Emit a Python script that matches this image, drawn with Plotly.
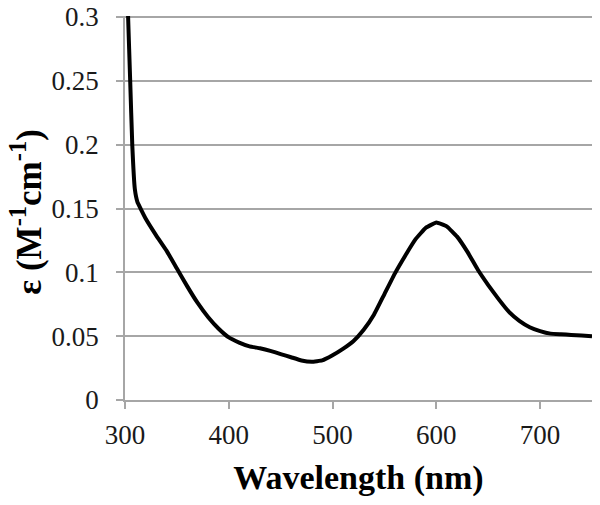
import plotly.graph_objects as go

wavelength = [302, 303, 305, 307, 309.5, 312, 315, 320, 330, 340, 350, 360, 370, 380, 390,
              400, 410, 420, 430, 440, 450, 460, 470, 480, 490, 500, 510, 520, 530, 540,
              550, 560, 570, 580, 590, 600, 610, 620, 630, 640, 650, 660, 670, 680, 690,
              700, 710, 720, 730, 740, 750]
epsilon = [0.33, 0.30, 0.25, 0.20, 0.165, 0.155, 0.150, 0.142, 0.129, 0.117, 0.103, 0.089, 0.076, 0.065, 0.056,
           0.049, 0.045, 0.042, 0.0405, 0.0385, 0.036, 0.0335, 0.031, 0.030, 0.031, 0.035, 0.040, 0.046, 0.055, 0.067,
           0.083, 0.099, 0.113, 0.126, 0.135, 0.139, 0.136, 0.128, 0.116, 0.102, 0.090, 0.079, 0.069, 0.062, 0.057,
           0.054, 0.052, 0.0515, 0.051, 0.0505, 0.050]

x_ticks = [300, 400, 500, 600, 700]
y_ticks = [0, 0.05, 0.1, 0.15, 0.2, 0.25, 0.3]
y_ticktext = ["0", "0.05", "0.1", "0.15", "0.2", "0.25", "0.3"]

fig = go.Figure()
fig.add_trace(go.Scatter(x=wavelength, y=epsilon, mode="lines",
                         line=dict(color="black", width=4, shape="spline", smoothing=0.3),
                         showlegend=False, hoverinfo="skip"))

serif = "Liberation Serif, Times New Roman, serif"
grid = "#a6a6a6"
fig.update_layout(
    width=600, height=505,
    margin=dict(l=125, r=8, t=16, b=105),
    paper_bgcolor="white", plot_bgcolor="white",
    font=dict(family=serif, color="black"),
    xaxis=dict(range=[300, 750], tickvals=x_ticks, ticks="outside", ticklen=7,
               tickcolor=grid, tickwidth=1.5, showgrid=False, zeroline=False,
               showline=True, linecolor=grid, linewidth=1.5, automargin=False,
               ticklabelstandoff=3, ticklabeloverflow="allow",
               tickfont=dict(size=27, family=serif, color="#1a1a1a"),
               title=dict(text="<b>Wavelength (nm)</b>", font=dict(size=34, family=serif),
                          standoff=16)),
    yaxis=dict(range=[0, 0.3008], tickvals=y_ticks, ticktext=y_ticktext, ticks="outside",
               ticklen=7, tickcolor=grid, tickwidth=1.5, showgrid=True, gridcolor=grid,
               gridwidth=1.5, zeroline=False, showline=True, linecolor=grid, linewidth=1.5,
               automargin=False, ticklabelstandoff=12, ticklabeloverflow="allow",
               tickfont=dict(size=27, family=serif, color="#1a1a1a")),
)
fig.add_annotation(text="<b>ε (M<sup>-1</sup>cm<sup>-1</sup>)</b>", xref="paper", yref="paper",
                   x=-0.21, y=0.49, textangle=-90, showarrow=False,
                   font=dict(size=35, family=serif, color="black"),
                   xanchor="center", yanchor="middle")

fig.write_html("out.html", config={"displayModeBar": False},
               post_script="document.body.style.margin='0';")
